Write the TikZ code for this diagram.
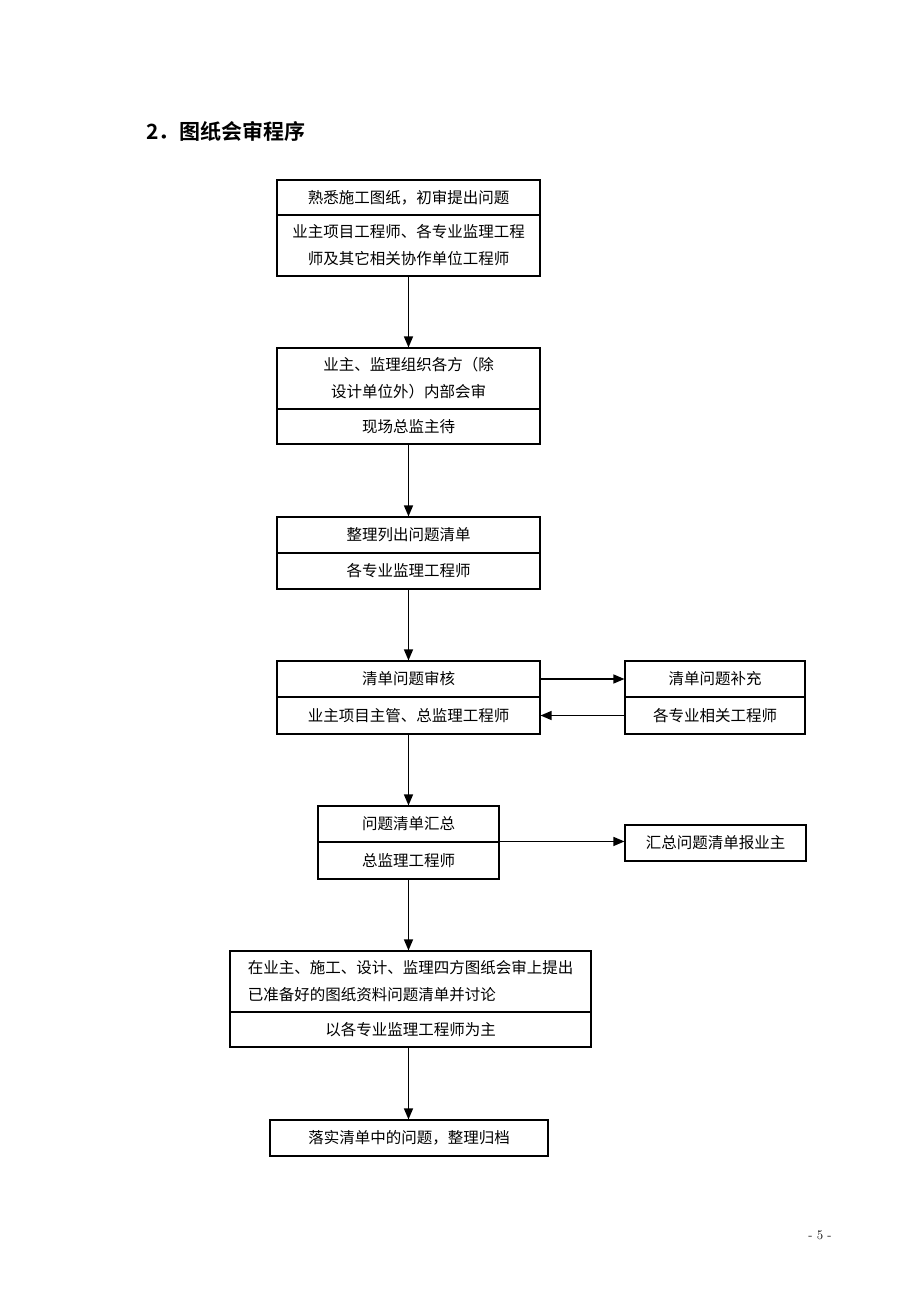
\documentclass[tikz,border=0pt]{standalone}
\usepackage{fontspec}
\newfontfamily\cjk{Noto Sans CJK SC}
\newfontfamily\cjkb{Noto Sans CJK SC Bold}
\usetikzlibrary{arrows.meta}
\begin{document}
\begin{tikzpicture}[x=1pt,y=-1pt,
  bx/.style={draw, line width=1.1pt, inner sep=0pt, align=center, font=\cjk\fontsize{15.5}{27}\selectfont},
  arr/.style={line width=1.3pt, -{Triangle[length=11pt,width=9pt]}}]
\fill[white] (0,0) rectangle (920,1302);
\useasboundingbox (0,0) rectangle (920,1302);
\node[anchor=west, font=\cjkb\fontsize{21}{24}\selectfont] (title) at (143,131) {2．图纸会审程序};
% box 1
\node[bx, minimum width=263pt, minimum height=35pt] (b1t) at (408.5,197.5) {熟悉施工图纸，初审提出问题};
\node[bx, minimum width=263pt, minimum height=61pt] (b1b) at (408.5,245.5) {业主项目工程师、各专业监理工程\\师及其它相关协作单位工程师};
% box 2
\node[bx, minimum width=263pt, minimum height=61pt] (b2t) at (408.5,378.5) {业主、监理组织各方（除\\设计单位外）内部会审};
\node[bx, minimum width=263pt, minimum height=35pt] (b2b) at (408.5,426.5) {现场总监主待};
% box 3
\node[bx, minimum width=263pt, minimum height=36pt] (b3t) at (408.5,535) {整理列出问题清单};
\node[bx, minimum width=263pt, minimum height=36pt] (b3b) at (408.5,571) {各专业监理工程师};
% box 4
\node[bx, minimum width=263pt, minimum height=36pt] (b4t) at (408.5,679) {清单问题审核};
\node[bx, minimum width=263pt, minimum height=37pt] (b4b) at (408.5,715.5) {业主项目主管、总监理工程师};
% side A
\node[bx, minimum width=180pt, minimum height=36pt] (sat) at (715,679) {清单问题补充};
\node[bx, minimum width=180pt, minimum height=37pt] (sab) at (715,715.5) {各专业相关工程师};
% box 5
\node[bx, minimum width=181pt, minimum height=36pt] (b5t) at (408.5,824) {问题清单汇总};
\node[bx, minimum width=181pt, minimum height=37pt] (b5b) at (408.5,860.5) {总监理工程师};
% side B
\node[bx, minimum width=181pt, minimum height=36pt] (sb) at (715.5,843) {汇总问题清单报业主};
% box 6
\node[bx, minimum width=361pt, minimum height=61pt, align=left] (b6t) at (410.5,981.5) {在业主、施工、设计、监理四方图纸会审上提出\\已准备好的图纸资料问题清单并讨论};
\node[bx, minimum width=361pt, minimum height=35pt] (b6b) at (410.5,1029.5) {以各专业监理工程师为主};
% box 7
\node[bx, minimum width=278pt, minimum height=36pt] (b7) at (409,1138) {落实清单中的问题，整理归档};
% page number
\node[font=\fontsize{13}{15}\selectfont] (pg) at (820,1235) {- 5 -};
% arrows
\draw[arr] (b1b.south) -- (b2t.north);
\draw[arr] (b2b.south) -- (b3t.north);
\draw[arr] (b3b.south) -- (b4t.north);
\draw[arr] (b4b.south) -- (b5t.north);
\draw[arr] (b5b.south) -- (b5b.south |- b6t.north);
\draw[arr] (b5b.south |- b6b.south) -- (b5b.south |- b7.north);
\draw[arr] (b4t.east) -- (sat.west);
\draw[arr] (sab.west) -- (b4b.east);
\draw[arr] (b5b.north east) -- (b5b.north east -| sb.west);
\end{tikzpicture}
\end{document}
